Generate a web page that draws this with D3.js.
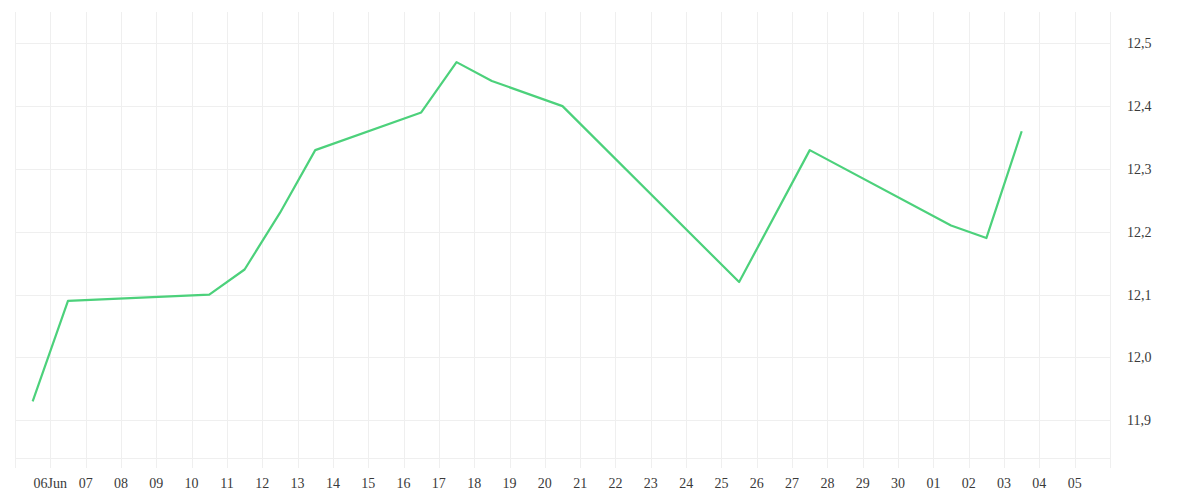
<!DOCTYPE html>
<html><head><meta charset="utf-8">
<script src="https://cdn.jsdelivr.net/npm/d3@7"></script>
<style>body{margin:0;background:#fff}svg{display:block}</style>
</head><body>
<svg id="c" width="1200" height="500"></svg>
<script>
const dates = ["2023-06-05","2023-06-06","2023-06-10","2023-06-11","2023-06-12","2023-06-13","2023-06-16","2023-06-17","2023-06-18","2023-06-20","2023-06-25","2023-06-27","2023-07-01","2023-07-02","2023-07-03"];
const values = [11.93,12.09,12.10,12.14,12.23,12.33,12.39,12.47,12.44,12.40,12.12,12.33,12.21,12.19,12.36];
const yTicks = [11.9,12.0,12.1,12.2,12.3,12.4,12.5];
const xStart = "2023-06-05", xEnd = "2023-07-06";

(function(){
const svg = d3.select("#c");
const parse = d3.utcParse("%Y-%m-%d");
const x = d3.scaleUtc().domain([parse(xStart), parse(xEnd)]).range([15, 1110]);
const y = d3.scaleLinear().domain([11.9, 12.5]).range([420.3, 43.3]);
const gridColor = "#efefef";
const gTop = 12, gBottom = 468, plotBottom = 458.5;

const days = d3.utcDay.range(parse(xStart), d3.utcDay.offset(parse(xEnd), 1));
svg.append("g").selectAll("line").data(days).join("line")
  .attr("x1", d => Math.round(x(d)) + 0.5).attr("x2", d => Math.round(x(d)) + 0.5)
  .attr("y1", gTop).attr("y2", gBottom)
  .attr("stroke", gridColor).attr("stroke-width", 1);
svg.append("g").selectAll("line").data(yTicks).join("line")
  .attr("x1", 15).attr("x2", 1110)
  .attr("y1", d => Math.round(y(d)) + 0.5).attr("y2", d => Math.round(y(d)) + 0.5)
  .attr("stroke", gridColor);
svg.append("line").attr("x1", 15).attr("x2", 1110).attr("y1", plotBottom).attr("y2", plotBottom).attr("stroke", gridColor);

const fmtDay = d3.utcFormat("%d");
const labelDays = days.filter(d => d > parse(xStart) && d < parse(xEnd));
svg.append("g").selectAll("text").data(labelDays).join("text")
  .attr("x", d => x(d)).attr("y", 488)
  .attr("text-anchor", "middle")
  .attr("font-family", "Liberation Serif, serif").attr("font-size", 14).attr("fill", "#3a3a3a")
  .text((d, i) => i === 0 ? fmtDay(d) + d3.utcFormat("%b")(d) : fmtDay(d));

const fmtY = v => d3.format(".1f")(v).replace(".", ",");
svg.append("g").selectAll("text").data(yTicks).join("text")
  .attr("x", 1127).attr("y", d => y(d) + 5)
  .attr("font-family", "Liberation Serif, serif").attr("font-size", 14).attr("fill", "#3a3a3a")
  .text(fmtY);

const pts = dates.map((d, i) => ({t: d3.utcHour.offset(parse(d), 12), v: values[i]}));
svg.append("path").datum(pts)
  .attr("fill", "none").attr("stroke", "#4cd17b").attr("stroke-width", 2.2)
  .attr("stroke-linejoin", "round")
  .attr("d", d3.line().x(d => x(d.t)).y(d => y(d.v)));
})();
</script>
</body></html>
